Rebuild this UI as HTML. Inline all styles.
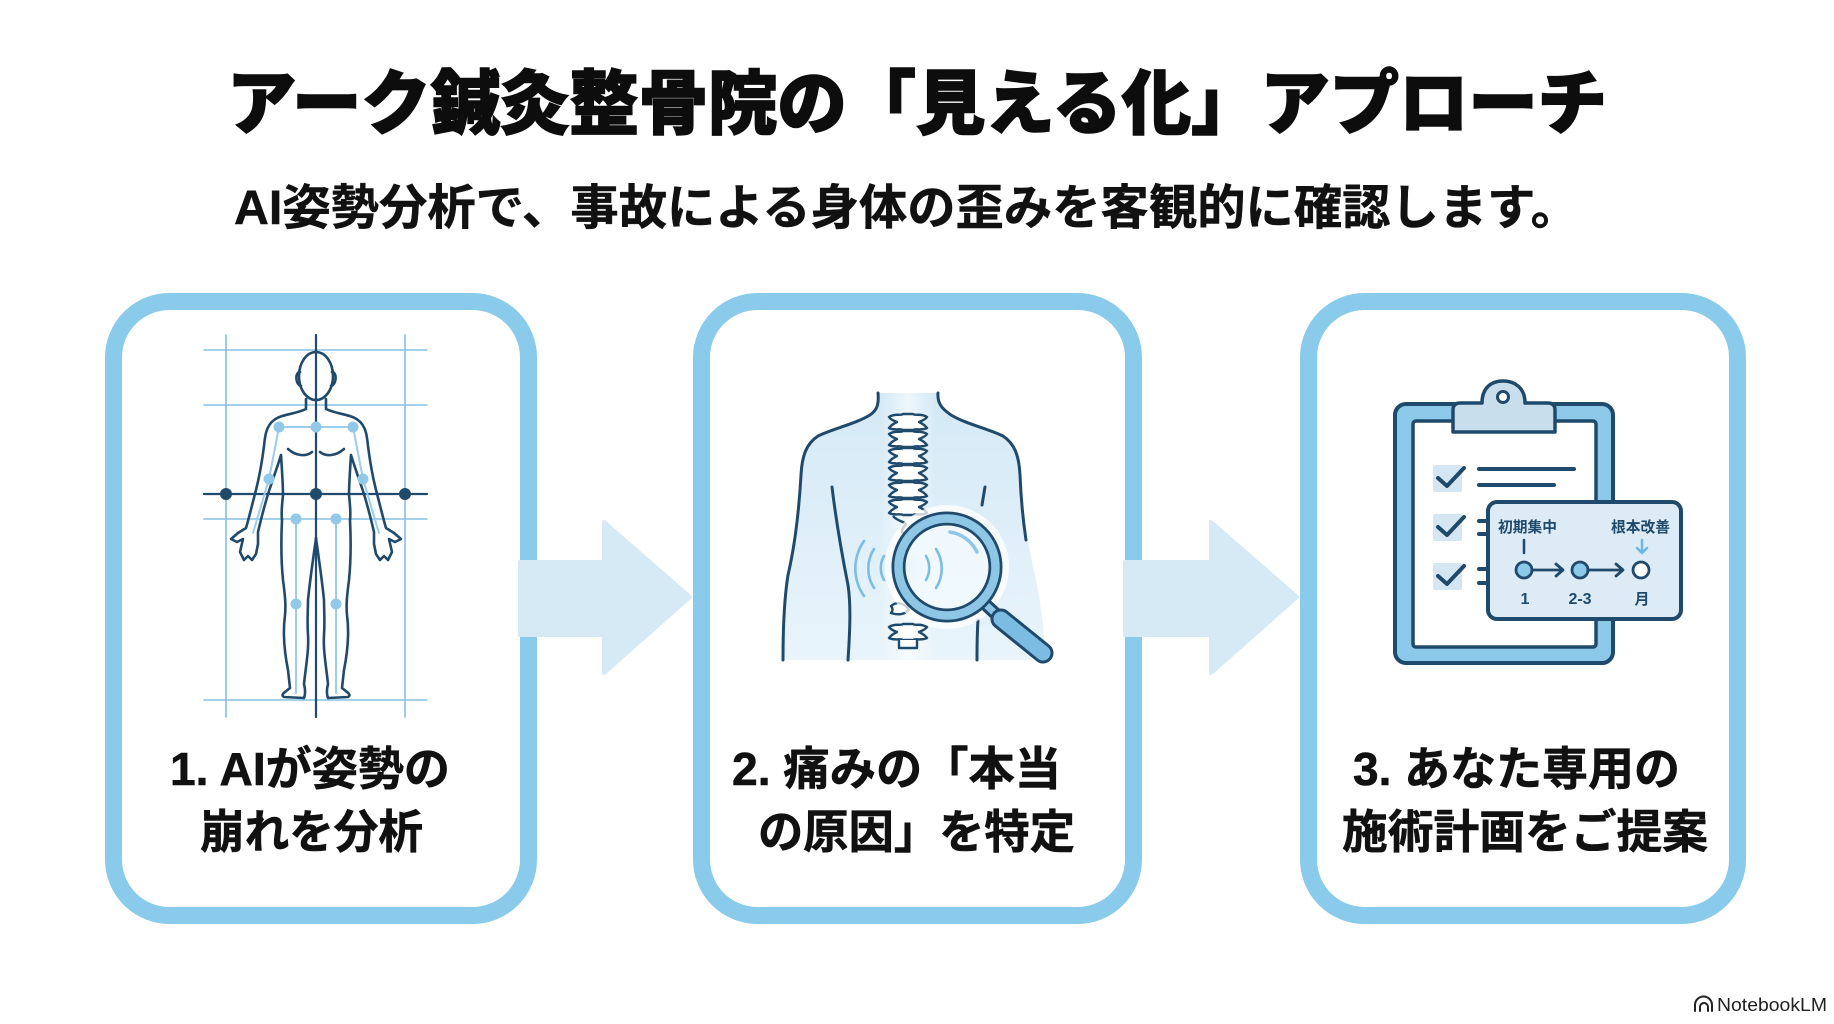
<!DOCTYPE html>
<html lang="ja">
<head>
<meta charset="utf-8">
<style>
  html,body{margin:0;padding:0;background:#ffffff;}
  body{width:1834px;height:1024px;overflow:hidden;}
  svg{display:block;}
  .t{font-family:"Liberation Sans","Noto Sans CJK JP",sans-serif;}
</style>
</head>
<body>
<svg width="1834" height="1024" viewBox="0 0 1834 1024" xmlns="http://www.w3.org/2000/svg">
  <defs>
    <linearGradient id="torso" x1="0" y1="0" x2="0" y2="1">
      <stop offset="0" stop-color="#D4E9F6"/>
      <stop offset="1" stop-color="#E9F4FB"/>
    </linearGradient>
    <linearGradient id="band" x1="0" y1="0" x2="1" y2="0">
      <stop offset="0" stop-color="#ffffff" stop-opacity="0"/>
      <stop offset="0.5" stop-color="#ffffff" stop-opacity="0.6"/>
      <stop offset="1" stop-color="#ffffff" stop-opacity="0"/>
    </linearGradient>
    <radialGradient id="pain" cx="0.5" cy="0.5" r="0.5">
      <stop offset="0" stop-color="#4FA8DC" stop-opacity="0.95"/>
      <stop offset="0.6" stop-color="#7CC0E6" stop-opacity="0.6"/>
      <stop offset="1" stop-color="#9FD0EC" stop-opacity="0"/>
    </radialGradient>
    <path id="vb" d="M-19 -5 C-13 -9,-7 -6,-5 -8 L5 -8 C7 -6,13 -9,19 -5 C17 -2,13 -1,11 0 C13 1,17 3,19 6 C13 9,7 6,5 8 L-5 8 C-7 6,-13 9,-19 6 C-17 3,-13 1,-11 0 C-13 -1,-17 -2,-19 -5 Z"/>
  </defs>

  <rect width="1834" height="1024" fill="#ffffff"/>

  <!-- Title -->
  <text class="t" x="917" y="128" text-anchor="middle" font-size="70" font-weight="900" fill="#0d0d0d" stroke="#0d0d0d" stroke-width="1.6" textLength="1380" lengthAdjust="spacingAndGlyphs">アーク鍼灸整骨院の「見える化」アプローチ</text>
  <!-- Subtitle -->
  <text class="t" x="234" y="224" font-size="48" font-weight="700" fill="#111111" stroke="#111111" stroke-width="0.5" textLength="1345" lengthAdjust="spacingAndGlyphs">AI姿勢分析で、事故による身体の歪みを客観的に確認します。</text>

  <!-- Cards -->
  <rect x="113.5" y="301.5" width="415" height="614" rx="56" ry="56" fill="#ffffff" stroke="#8ACBEB" stroke-width="17"/>
  <rect x="701.5" y="301.5" width="432" height="614" rx="56" ry="56" fill="#ffffff" stroke="#8ACBEB" stroke-width="17"/>
  <rect x="1308.5" y="301.5" width="429" height="614" rx="56" ry="56" fill="#ffffff" stroke="#8ACBEB" stroke-width="17"/>

  <!-- Arrows -->
  <polygon points="520,562 604,562 604,522 690,597 604,673 604,635 520,635" fill="#D5EAF5" stroke="#D5EAF5" stroke-width="4" stroke-linejoin="round"/>
  <polygon points="1125,562 1211,562 1211,522 1297,597 1211,673 1211,635 1125,635" fill="#D5EAF5" stroke="#D5EAF5" stroke-width="4" stroke-linejoin="round"/>

  <!-- ============ Card 1: Figure with grid ============ -->
  <g stroke-linecap="round">
    <g stroke="#86C0E0" stroke-width="1.6">
      <line x1="226" y1="335" x2="226" y2="717"/>
      <line x1="405" y1="335" x2="405" y2="717"/>
      <line x1="204" y1="350" x2="427" y2="350"/>
      <line x1="204" y1="405" x2="427" y2="405"/>
      <line x1="204" y1="519" x2="427" y2="519"/>
      <line x1="204" y1="700" x2="427" y2="700"/>
    </g>
    <g stroke="#1F4A6C" stroke-width="2.2">
      <line x1="316" y1="335" x2="316" y2="717"/>
      <line x1="204" y1="494" x2="427" y2="494"/>
    </g>
    <g stroke="#9CCDEA" stroke-width="2" fill="none">
      <polyline points="279,427 353,427"/>
      <polyline points="279,427 269,479 253,533"/>
      <polyline points="353,427 363,479 379,533"/>
      <polyline points="296,519 296,604 296,693"/>
      <polyline points="336,519 336,604 336,693"/>
    </g>
    <g fill="none" stroke="#1F4A6C" stroke-width="2.6" stroke-linejoin="round">
      <ellipse cx="316" cy="376" rx="17" ry="24" fill="none"/>
      <path d="M300 372 C295 372,295 384,301 386"/>
      <path d="M332 372 C337 372,337 384,331 386"/>
      <g id="halfbody">
        <path d="M306 399 L306 409 C296 414,282 414,274 420 C266 426,265 436,264 446 C262 462,259 478,256 490 C252 505,249 518,246 528 L238 533 L231 539 L237 542 L243 539 L240 552 L244 560 L248 556 L252 560 L256 554 L258 544 L258 532 C262 515,266 500,270 488 C274 476,278 465,281 455 C282 470,283 485,283 495 C282 505,281 512,282 520 C281 540,281 560,283 580 C285 595,286 605,285 615 C283 630,284 650,288 670 L290 688 C285 692,280 695,284 697 L304 698 C306 693,305 688,304 684 C306 665,309 650,308 635 C307 620,308 610,308 600 C310 580,313 560,316 538"/>
        <path d="M288 449 C296 456,306 457,312 452"/>
      </g>
      <use href="#halfbody" transform="translate(632,0) scale(-1,1)"/>
    </g>
    <g fill="#93C9E8">
      <circle cx="279" cy="427" r="5.5"/>
      <circle cx="316" cy="427" r="5.5"/>
      <circle cx="353" cy="427" r="5.5"/>
      <circle cx="269" cy="479" r="5.5"/>
      <circle cx="363" cy="479" r="5.5"/>
      <circle cx="296" cy="519" r="5.5"/>
      <circle cx="336" cy="519" r="5.5"/>
      <circle cx="296" cy="604" r="5.5"/>
      <circle cx="336" cy="604" r="5.5"/>
    </g>
    <g fill="#1F4A6C">
      <circle cx="226" cy="494" r="6"/>
      <circle cx="316" cy="494" r="6"/>
      <circle cx="405" cy="494" r="6"/>
    </g>
  </g>

  <!-- ============ Card 2: Back & magnifier ============ -->
  <g>
    <path d="M878 393 C879 405,877 410,870 415 C855 424,835 428,818 436 C806 444,802 456,801 475 C799 510,795 545,788 575 C784 600,783 630,783 660 L1045 660 C1045 630,1040 600,1035 575 C1028 545,1022 510,1020 475 C1019 456,1015 444,1003 436 C986 428,966 424,951 415 C944 410,937 405,938 393 Z" fill="url(#torso)"/>
    <rect x="880" y="393" width="56" height="267" fill="url(#band)"/>
    <g fill="none" stroke="#1F4A6C" stroke-width="3" stroke-linecap="round" stroke-linejoin="round">
      <path d="M878 393 C879 405,877 410,870 415 C855 424,835 428,818 436 C806 444,802 456,801 475 C799 510,795 545,788 575 C784 600,783 630,783 660"/>
      <path d="M938 393 C937 405,944 410,951 415 C966 424,986 428,1003 436 C1015 444,1019 456,1020 475 C1021 500,1023 520,1026 540"/>
      <path d="M832 487 C836 520,842 555,848 585 C851 605,850 630,848 660"/>
      <path d="M985 487 L982 505"/>
      <path d="M978 620 C977 635,977 648,977 660"/>
    </g>
    <!-- spine -->
    <g fill="#ffffff" stroke="#1F4A6C" stroke-width="2.4" stroke-linejoin="round">
      <use href="#vb" transform="translate(908,422)"/>
      <use href="#vb" transform="translate(908,439)"/>
      <use href="#vb" transform="translate(908,456)"/>
      <use href="#vb" transform="translate(908,473)"/>
      <use href="#vb" transform="translate(908,490)"/>
      <use href="#vb" transform="translate(908,507)"/>
      <path d="M893 516 C897 521,903 521,906 524 C903 528,900 531,904 535" fill="none"/>
      <path d="M891 606 C897 601,905 603,909 610 C904 615,897 615,891 613 C893 611,893 608,891 606 Z"/>
      <use href="#vb" transform="translate(908,632)"/>
      <path d="M899 640 L899 648 L917 648 L917 640" fill="#ffffff"/>
    </g>
    <!-- pain -->
    <circle cx="905" cy="568" r="20" fill="url(#pain)"/>
    <g fill="none" stroke="#7BBDE3" stroke-width="2.6" stroke-linecap="round">
      <path d="M884 556 A24 24 0 0 0 884 580"/>
      <path d="M874 549 A36 36 0 0 0 874 588"/>
      <path d="M864 541 A48 48 0 0 0 864 596"/>
    </g>
    <!-- magnifier -->
    <circle cx="947" cy="567" r="62" fill="#ffffff" fill-opacity="0.75"/>
    <circle cx="947" cy="567" r="44" fill="#EEF7FC" fill-opacity="0.8"/>
    <g fill="none" stroke="#7BBDE3" stroke-width="2.6" stroke-linecap="round">
      <path d="M926 556 A24 24 0 0 1 926 580"/>
      <path d="M936 549 A36 36 0 0 1 936 588"/>
    </g>
    <path d="M950 532 A36 36 0 0 1 977 552" fill="none" stroke="#8EC6E6" stroke-width="3.5" stroke-linecap="round"/>
    <line x1="984" y1="603" x2="999" y2="617" stroke="#1F4A6C" stroke-width="13" stroke-linecap="round"/>
    <line x1="984" y1="603" x2="999" y2="617" stroke="#8EC6E6" stroke-width="7" stroke-linecap="round"/>
    <line x1="1001" y1="619" x2="1043" y2="653" stroke="#1F4A6C" stroke-width="21" stroke-linecap="round"/>
    <line x1="1001" y1="619" x2="1043" y2="653" stroke="#7DBCE2" stroke-width="15" stroke-linecap="round"/>
    <circle cx="947" cy="567" r="48.5" fill="none" stroke="#1F4A6C" stroke-width="14"/>
    <circle cx="947" cy="567" r="48.5" fill="none" stroke="#8EC6E6" stroke-width="8.5"/>
  </g>

  <!-- ============ Card 3: Clipboard ============ -->
  <g stroke="#1F4A6C" stroke-linejoin="round">
    <rect x="1395" y="404" width="218" height="259" rx="11" fill="#8CC8E8" stroke-width="4"/>
    <rect x="1413" y="421" width="183" height="226" rx="3" fill="#ffffff" stroke-width="3.5"/>
    <path d="M1453 432 L1453 410 Q1453 403,1460 403 L1482 403 C1482 388,1491 381,1503 381 C1515 381,1525 388,1525 403 L1548 403 Q1555 403,1555 410 L1555 432 Z" fill="#C9DEEC" stroke-width="3.5"/>
    <circle cx="1503" cy="397" r="5.5" fill="#ffffff" stroke-width="3"/>
    <g stroke="none" fill="#D4E6F2">
      <rect x="1433" y="465" width="29" height="27" rx="2"/>
      <rect x="1433" y="514" width="29" height="27" rx="2"/>
      <rect x="1433" y="563" width="29" height="27" rx="2"/>
    </g>
    <g fill="none" stroke-width="4" stroke-linecap="round">
      <polyline points="1438,478 1447,486 1464,468"/>
      <polyline points="1438,527 1447,535 1464,517"/>
      <polyline points="1438,576 1447,584 1464,566"/>
      <line x1="1479" y1="469" x2="1574" y2="469"/>
      <line x1="1479" y1="485" x2="1554" y2="485"/>
      <line x1="1479" y1="521" x2="1489" y2="521"/>
      <line x1="1479" y1="534" x2="1489" y2="534"/>
      <line x1="1479" y1="569" x2="1489" y2="569"/>
      <line x1="1479" y1="583" x2="1489" y2="583"/>
    </g>
    <rect x="1488" y="502" width="193" height="117" rx="9" fill="#DCEBF6" stroke-width="4"/>
    <line x1="1524" y1="540" x2="1524" y2="553" stroke-width="2.5" stroke-linecap="round"/>
    <g stroke="#6DB6E0" stroke-width="2.5" fill="none" stroke-linecap="round">
      <line x1="1642" y1="540" x2="1642" y2="552"/>
      <polyline points="1637,548 1642,553 1647,548"/>
    </g>
    <circle cx="1524" cy="570" r="8" fill="#8CC8E8" stroke-width="2.8"/>
    <circle cx="1580" cy="570" r="8" fill="#8CC8E8" stroke-width="2.8"/>
    <circle cx="1641" cy="570" r="8" fill="#ffffff" stroke-width="2.8"/>
    <g fill="none" stroke-width="2.8" stroke-linecap="round">
      <line x1="1532" y1="570" x2="1562" y2="570"/>
      <polyline points="1556,564 1563,570 1556,576"/>
      <line x1="1588" y1="570" x2="1622" y2="570"/>
      <polyline points="1616,564 1623,570 1616,576"/>
    </g>
  </g>
  <g class="t" fill="#1F4A6C">
    <text x="1498" y="532" font-size="15" font-weight="700" textLength="59" lengthAdjust="spacingAndGlyphs">初期集中</text>
    <text x="1611" y="532" font-size="15" font-weight="700" textLength="59" lengthAdjust="spacingAndGlyphs">根本改善</text>
    <text x="1525" y="604" font-size="16" font-weight="700" text-anchor="middle">1</text>
    <text x="1580" y="604" font-size="16" font-weight="700" text-anchor="middle">2-3</text>
    <text x="1642" y="604" font-size="15" font-weight="700" text-anchor="middle">月</text>
  </g>

  <!-- Card labels -->
  <g class="t" font-size="46" font-weight="700" fill="#111111" stroke="#111111" stroke-width="0.6">
    <text x="170" y="785" textLength="280" lengthAdjust="spacingAndGlyphs">1. AIが姿勢の</text>
    <text x="200" y="848" textLength="223" lengthAdjust="spacingAndGlyphs">崩れを分析</text>
    <text x="732" y="785" textLength="329" lengthAdjust="spacingAndGlyphs">2. 痛みの「本当</text>
    <text x="758" y="848" textLength="317" lengthAdjust="spacingAndGlyphs">の原因」を特定</text>
    <text x="1353" y="785" textLength="327" lengthAdjust="spacingAndGlyphs">3. あなた専用の</text>
    <text x="1342" y="848" textLength="366" lengthAdjust="spacingAndGlyphs">施術計画をご提案</text>
  </g>

  <!-- NotebookLM mark -->
  <g fill="none" stroke="#222222" stroke-width="2" stroke-linecap="round">
    <path d="M1695 1011 V1005 A8.5 8.5 0 0 1 1712 1005 V1011"/>
    <path d="M1700 1011 V1007 A4 4 0 0 1 1708 1007 V1011"/>
  </g>
  <text class="t" x="1717" y="1011" font-size="18" fill="#222222" textLength="110" lengthAdjust="spacingAndGlyphs">NotebookLM</text>
</svg>
</body>
</html>
